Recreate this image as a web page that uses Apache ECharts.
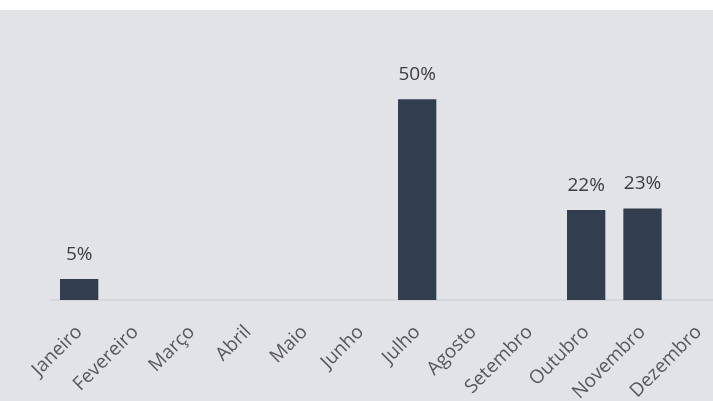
<!DOCTYPE html>
<html>
<head>
<meta charset="utf-8">
<script src="https://cdn.jsdelivr.net/npm/echarts@6.0.0/dist/echarts.min.js"></script>
<style>
  html, body { margin:0; padding:0; background:#ffffff; }
  #chart { position:absolute; left:0; top:10px; width:713px; height:391px; background:#e2e3e7; }
</style>
</head>
<body>
<div id="chart"></div>
<script>
// --- chart data (share per month)
const months = ["Janeiro", "Fevereiro", "Março", "Abril", "Maio", "Junho",
  "Julho", "Agosto", "Setembro", "Outubro", "Novembro", "Dezembro"];
const shares = [0.052, 0, 0, 0, 0, 0, 0.50, 0, 0, 0.224, 0.228, 0];

const chart = echarts.init(document.getElementById("chart"));

const option = {
  animation: false,
  backgroundColor: "transparent",
  textStyle: { fontFamily: "Open Sans" },
  // grid runs past the right edge, like the original
  grid: { left: 51, width: 676, top: 49, bottom: 101, outerBoundsMode: "none", containLabel: false },
  xAxis: {
    type: "category",
    data: months,
    axisTick: { show: false },
    axisLine: { lineStyle: { color: "#d2d3d6", width: 1.5 } },
    axisLabel: {
      interval: 0,
      rotate: 45,
      margin: 29,
      fontSize: 19,
      color: "#58585c",
      fontFamily: "Open Sans"
    }
  },
  yAxis: {
    type: "value",
    min: 0,
    max: 0.6,
    show: false,
    splitLine: { show: false }
  },
  series: [
    {
      type: "bar",
      data: shares,
      barCategoryGap: "32%",
      itemStyle: { color: "#333d50" },
      label: {
        show: true,
        position: "top",
        distance: 15,
        fontSize: 19,
        color: "#3d3d40",
        fontFamily: "Open Sans",
        formatter: (p) => (p.value ? Math.round(p.value * 100) + "%" : "")
      }
    }
  ]
};

chart.setOption(option);
</script>
</body>
</html>
